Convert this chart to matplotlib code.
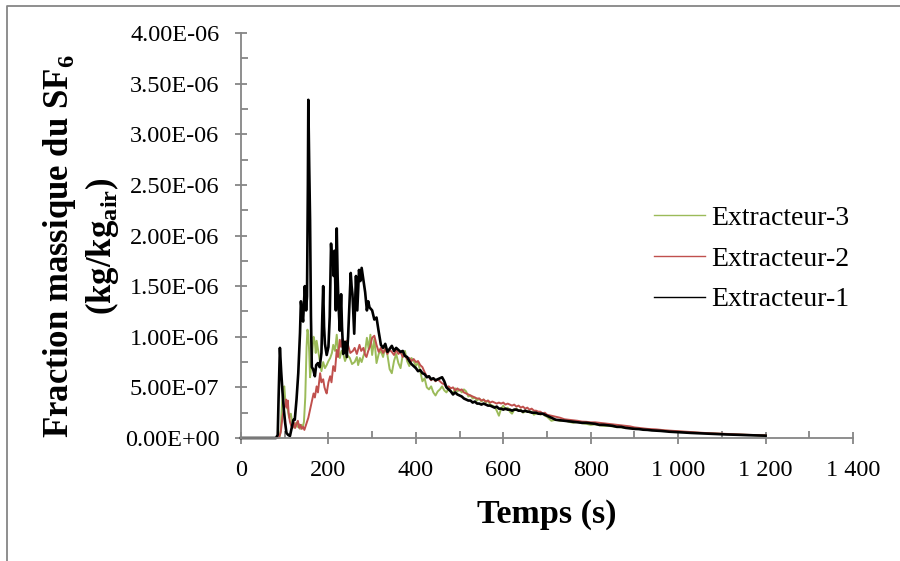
import matplotlib
matplotlib.use("Agg")
import matplotlib.pyplot as plt
from matplotlib.lines import Line2D
from matplotlib.ticker import FuncFormatter, MultipleLocator

plt.rcParams['font.family'] = ['Liberation Serif', 'DejaVu Serif']
plt.rcParams['mathtext.fontset'] = 'custom'
plt.rcParams['mathtext.rm'] = 'Liberation Serif'
plt.rcParams['mathtext.bf'] = 'Liberation Serif:bold'

# values, mass fraction in units of 1e-7 kg/kg
# decay part of every series is sampled on the same time grid
t_decay = list(range(300, 701, 5)) + list(range(710, 1201, 10))

t_rise1 = [0, 80, 84, 86, 89, 92, 95, 98, 101, 104, 108, 112, 116, 120, 123, 127,
           131, 135, 137, 139, 142, 146, 149, 151, 153, 154, 156, 158, 160, 162,
           165, 169, 172, 176, 180, 184, 186, 188, 190, 192, 196, 200, 203, 206,
           208, 210, 212, 214, 217, 219, 221, 223, 226, 229, 231, 234, 238, 242,
           245, 248, 251, 253, 255, 259, 263, 266, 270, 273, 276, 280, 284, 288,
           291, 294]
v_rise1 = [0, 0, 0.3, 4.0, 8.9, 6.5, 4.5, 2.8, 1.5, 0.5, 0.3, 0.2, 1.0, 1.8, 1.8, 3.8,
           6.4, 10.4, 13.5, 12.6, 11.5, 15.0, 12.6, 14.0, 25.0, 33.4, 27.0, 21.5, 12.0, 7.0,
           6.8, 6.1, 7.2, 7.4, 7.0, 8.4, 12.0, 15.0, 11.0, 9.3, 8.2, 9.0, 12.0, 19.2,
           17.5, 18.3, 16.0, 18.5, 12.6, 20.7, 16.0, 13.2, 10.6, 14.2, 11.0, 8.3, 9.5, 8.0,
           10.0, 13.1, 16.3, 15.0, 14.2, 10.3, 16.0, 12.6, 16.6, 15.5, 16.8, 15.6, 14.4, 12.6,
           13.5, 12.9]
v_decay1 = [12.6, 11.7, 11.9, 10.5, 9.2, 8.9, 9.3, 8.5, 8.8, 9.1,
            8.6, 8.9, 8.7, 8.5, 8.6, 8.1, 8.0, 7.6, 7.3, 7.1,
            6.9, 6.6, 6.7, 6.4, 6.3, 6.0, 6.1, 5.8, 5.9, 5.7,
            5.8, 5.9, 6.0, 5.6, 5.0, 4.8, 4.6, 4.3, 4.5, 4.3,
            4.2, 4.1, 3.9, 3.8, 3.7, 3.7, 3.5, 3.6, 3.4, 3.4,
            3.3, 3.4, 3.3, 3.2, 3.2, 3.1, 3.0, 3.1, 2.9, 2.9,
            2.8, 2.9, 2.8, 2.8, 2.7, 2.8, 2.8, 2.7, 2.7, 2.6,
            2.7, 2.6, 2.6, 2.5, 2.5, 2.5, 2.4, 2.4, 2.4, 2.3,
            2.2,
            2.0, 1.8, 1.75, 1.7, 1.65, 1.6, 1.55, 1.5, 1.5, 1.45,
            1.4, 1.3, 1.3, 1.25, 1.2, 1.1, 1.1, 1.0, 0.95, 0.9,
            0.88, 0.82, 0.8, 0.75, 0.73, 0.7, 0.66, 0.62, 0.6, 0.57,
            0.55, 0.52, 0.5, 0.48, 0.46, 0.44, 0.42, 0.4, 0.39, 0.37,
            0.35, 0.34, 0.32, 0.31, 0.29, 0.28, 0.27, 0.25, 0.24, 0.23]

t_rise2 = [0, 86, 89, 91, 95, 98, 101, 103, 105, 107, 109, 112, 115, 118, 121, 124,
           127, 130, 133, 136, 139, 142, 145, 148, 151, 154, 158, 161, 164, 166,
           169, 173, 176, 179, 181, 184, 188, 191, 194, 196, 200, 204, 207, 211,
           215, 219, 222, 226, 229, 232, 235, 238, 242, 246, 250, 256, 260, 265,
           271, 275, 280, 284, 287, 291, 295]
v_rise2 = [0, 0, 0.3, 0.6, 2.1, 2.8, 3.2, 3.8, 3.0, 3.7, 2.5, 1.6, 1.2, 1.0, 1.5, 1.0,
           1.4, 1.7, 1.0, 1.3, 0.9, 1.1, 0.8, 1.2, 1.6, 2.0, 2.8, 3.4, 4.0, 4.4,
           4.0, 5.1, 4.5, 5.6, 6.4, 5.5, 5.8, 5.0, 4.6, 4.4, 5.5, 6.1, 5.5, 7.1,
           6.6, 8.7, 8.0, 9.7, 9.0, 9.8, 9.5, 8.7, 9.6, 9.0, 8.4, 8.6, 8.9, 8.3,
           9.2, 8.6, 8.9, 8.2, 8.0, 8.6, 9.0]
v_decay2 = [9.9, 10.1, 9.2, 8.5, 8.9, 8.4, 8.8, 8.3, 8.7, 8.5,
            8.2, 8.7, 8.3, 8.5, 8.0, 8.2, 7.8, 7.9, 7.6, 7.8,
            7.5, 7.6, 7.2, 7.0, 6.5, 6.1, 6.0, 5.7, 5.9, 5.6,
            5.8, 5.6, 5.4, 5.3, 5.0, 5.1, 4.9, 5.0, 4.7, 4.9,
            4.7, 4.8, 4.5, 4.4, 4.3, 4.2, 4.1, 4.0, 3.9, 3.9,
            3.7, 3.8, 3.6, 3.7, 3.5, 3.6, 3.5, 3.4, 3.5, 3.4,
            3.5, 3.3, 3.4, 3.3, 3.2, 3.3, 3.1, 3.2, 3.0, 3.1,
            2.9, 3.0, 2.8, 2.9, 2.7, 2.7, 2.6, 2.6, 2.4, 2.5,
            2.3,
            2.2, 2.1, 2.0, 1.85, 1.8, 1.75, 1.7, 1.62, 1.6, 1.55,
            1.55, 1.5, 1.45, 1.4, 1.35, 1.3, 1.25, 1.2, 1.15, 1.05,
            1.0, 0.95, 0.9, 0.88, 0.85, 0.8, 0.76, 0.73, 0.7, 0.66,
            0.64, 0.6, 0.58, 0.55, 0.52, 0.5, 0.48, 0.45, 0.43, 0.41,
            0.4, 0.38, 0.36, 0.35, 0.33, 0.32, 0.3, 0.28, 0.27, 0.26]

t_rise3 = [0, 88, 91, 94, 97, 99, 101, 104, 107, 110, 114, 117, 120, 123, 126, 129,
           132, 135, 138, 141, 144, 147, 150, 152, 154, 156, 158, 161, 164, 166,
           169, 171, 173, 176, 180, 184, 188, 192, 196, 200, 204, 208, 211, 215,
           219, 222, 226, 230, 234, 238, 243, 249, 254, 260, 265, 268, 272, 276,
           280, 284, 288, 292, 296]
v_rise3 = [0, 0, 0.8, 3.5, 4.8, 5.1, 3.9, 3.2, 2.8, 2.0, 2.4, 1.6, 1.3, 1.0, 1.5, 1.1,
           1.4, 0.9, 1.3, 1.0, 1.6, 4.0, 9.0, 10.7, 10.2, 8.5, 6.0, 7.2, 9.0, 10.0,
           9.4, 8.4, 9.6, 8.8, 7.8, 6.6, 7.5, 6.9, 7.2, 7.6, 7.9, 8.4, 9.2, 8.6,
           10.2, 8.8, 7.9, 8.6, 8.3, 7.6, 8.2, 7.9, 7.3, 7.5, 8.0, 7.2, 7.9, 7.5,
           8.1, 8.6, 9.9, 8.8, 10.2]
v_decay3 = [8.2, 9.8, 7.4, 8.3, 8.6, 8.0, 9.0, 8.2, 6.8, 6.4,
            7.6, 8.3, 7.4, 6.9, 8.2, 8.6, 7.6, 7.1, 7.9, 7.6,
            7.1, 7.5, 6.6, 5.6, 5.9, 5.0, 4.8, 5.1, 4.5, 4.2,
            4.6, 4.8, 5.1, 4.7, 4.5, 4.9, 4.6, 4.4, 4.9, 4.6,
            4.8, 4.5, 4.8, 4.6, 4.1, 4.2, 3.9, 4.0, 3.7, 3.9,
            3.6, 3.8, 3.5, 3.7, 3.3, 3.2, 3.1, 2.7, 2.2, 2.9,
            3.2, 2.8, 3.0, 2.6, 2.4, 2.8, 2.9, 2.7, 2.8, 2.5,
            2.6, 2.7, 2.5, 2.6, 2.3, 2.4, 2.5, 2.3, 2.4, 2.2,
            2.1,
            1.7, 1.8, 1.7, 1.75, 1.6, 1.5, 1.6, 1.45, 1.4, 1.3,
            1.35, 1.25, 1.2, 1.2, 1.15, 1.1, 1.05, 1.0, 0.98, 0.95,
            0.9, 0.9, 0.85, 0.8, 0.78, 0.75, 0.72, 0.68, 0.65, 0.62,
            0.6, 0.57, 0.55, 0.52, 0.5, 0.48, 0.45, 0.43, 0.42, 0.4,
            0.38, 0.37, 0.35, 0.33, 0.32, 0.3, 0.29, 0.27, 0.26, 0.25]

labels = ['Extracteur-3', 'Extracteur-2', 'Extracteur-1']
colors = ['#9BBB59', '#C0504D', '#000000']
x_ticks = [0, 200, 400, 600, 800, 1000, 1200, 1400]

fig = plt.figure(figsize=(9, 5.61), dpi=100)
ax = fig.add_axes([241 / 900, 1 - 438 / 561, 612 / 900, 405 / 561])

series = [(t_rise3 + t_decay, v_rise3 + v_decay3, 1.4),
          (t_rise2 + t_decay, v_rise2 + v_decay2, 1.4),
          (t_rise1 + t_decay, v_rise1 + v_decay1, 1.9)]
handles = []
for (t, v, lw), lab, col in zip(series, labels, colors):
    ax.plot(t, [x * 1e-7 for x in v], color=col, lw=lw, clip_on=False)
    handles.append(Line2D([], [], color=col, lw=1.0, label=lab))

ax.set_xlim(0, 1400)
ax.set_ylim(0, 4e-6)
ax.set_xticks(x_ticks)
ax.xaxis.set_minor_locator(MultipleLocator(100))
ax.yaxis.set_major_locator(MultipleLocator(5e-7))
ax.yaxis.set_minor_locator(MultipleLocator(2.5e-7))
ax.xaxis.set_major_formatter(FuncFormatter(lambda v, p: f"{int(v):,}".replace(',', ' ')))
ax.yaxis.set_major_formatter(FuncFormatter(lambda v, p: f"{v:.2E}"))

grey = '#868686'
for side in ['top', 'right']:
    ax.spines[side].set_visible(False)
for side in ['left', 'bottom']:
    ax.spines[side].set_color(grey)
    ax.spines[side].set_linewidth(1.3)
ax.tick_params(which='major', direction='inout', length=9, width=1.3, color=grey,
               labelsize=17.5, pad=11)
ax.tick_params(which='minor', direction='in', length=5, width=1.3, color=grey)

ax.set_xlabel('Temps (s)', fontsize=24.5, fontweight='bold')
ax.xaxis.set_label_coords(0.5, -0.15)
fig.text(81 / 900, 1 - 246 / 561,
         'Fraction massique du SF$_{\\mathbf{6}}$\n(kg/kg$_{\\mathbf{air}}$)',
         rotation=90, ha='center', va='center', fontsize=25, fontweight='bold',
         multialignment='center')

fig.legend(handles=handles, loc='center left', bbox_to_anchor=(654 / 900, 1 - 259 / 561),
           frameon=False, fontsize=20, handlelength=1.85, handletextpad=0.2,
           labelspacing=0.55, borderpad=0, borderaxespad=0)

# chart area border, cut at right and bottom
fig.add_artist(Line2D([7 / 900, 7 / 900, 1], [0, 1 - 6 / 561, 1 - 6 / 561],
                      transform=fig.transFigure, color=grey, lw=1.3))

fig.savefig('out.png', dpi=100)
